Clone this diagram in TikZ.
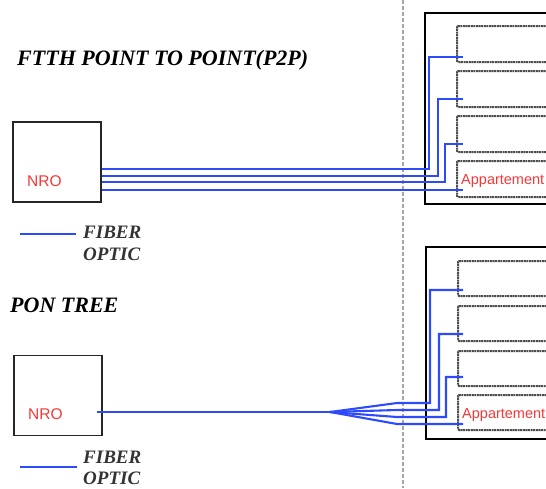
\documentclass[tikz,border=0pt]{standalone}
\usepackage{fontspec}
\setmainfont{Liberation Serif}
\newfontfamily\tagfont{Liberation Sans}
\usetikzlibrary{calc}
\definecolor{fiberblue}{RGB}{45,75,250}
\definecolor{tagred}{RGB}{245,55,55}

\tikzset{
  fiber/.style={fiberblue, line width=2.1pt},
  nrobox/.style={draw=black!85, line width=1.8pt, minimum width=88pt, minimum height=80pt, inner sep=0pt},
  flatbox/.style={draw=black!70, line width=2pt, dash pattern=on 2pt off 0.6pt, rounded corners=1pt,
    anchor=north west, minimum width=100pt, minimum height=36pt, inner sep=0pt},
  heading/.style={anchor=base west, inner sep=0pt, font=\bfseries\itshape\fontsize{22}{24}\selectfont},
  legendtext/.style={anchor=base west, inner sep=0pt, text=black!80, font=\bfseries\itshape\fontsize{19}{21}\selectfont},
  redtag/.style={anchor=base west, inner sep=0pt, text=tagred, font=\tagfont\fontsize{#1}{#1}\selectfont},
}

\begin{document}
\begin{tikzpicture}[x=1pt,y=-1pt]

  \useasboundingbox (0,0) rectangle (546,488);

  % Divider
  \draw[gray!70, line width=1.3pt, dash pattern=on 4pt off 2pt] (403,0) -- (403,488);

  % Titles
  \node[heading] (titleP2P) at (17,65) {FTTH POINT TO POINT(P2P)};
  \node[heading] (titlePON) at (10,312) {PON TREE};

  % Central offices
  \node[nrobox] (nroA) at (57,162) {};
  \node[redtag=15.5] (nroAtag) at (27,186) {NRO};
  \node[nrobox] (nroB) at (58,395.5) {};
  \node[redtag=15.5] (nroBtag) at (28,419) {NRO};

  % Legends
  \draw[fiber] (20,234) -- (76,234);
  \node[legendtext] (legAfiber) at (83,238) {FIBER};
  \node[legendtext] (legAoptic) at (83,260) {OPTIC};
  \draw[fiber] (20,467) -- (77,467);
  \node[legendtext] (legBfiber) at (83,463) {FIBER};
  \node[legendtext] (legBoptic) at (83,484) {OPTIC};

  % Buildings
  \draw[black, line width=1.7pt] (425,13) rectangle (560,204);
  \draw[black, line width=1.7pt] (426,247) rectangle (560,439);

  % Flats, P2P building
  \node[flatbox] (flatA1) at (456,25) {};
  \node[flatbox] (flatA2) at (456,70) {};
  \node[flatbox] (flatA3) at (456,115) {};
  \node[flatbox] (flatA4) at (456,160) {};
  \node[redtag=14.5] (flatAtag) at (461,184) {Appartement};

  % Flats, PON building
  \node[flatbox, minimum height=35pt] (flatB1) at (457,260) {};
  \node[flatbox, minimum height=35pt] (flatB2) at (457,305) {};
  \node[flatbox, minimum height=35pt] (flatB3) at (457,350) {};
  \node[flatbox, minimum height=35pt] (flatB4) at (457,394) {};
  \node[redtag=14.5] (flatBtag) at (462,418) {Appartement};

  % Drop points inside the flats
  \coordinate (dropA1) at (463,57);
  \coordinate (dropA2) at (463,99);
  \coordinate (dropA3) at (463,144);
  \coordinate (dropA4) at (463,190);
  \coordinate (dropB1) at (463,290);
  \coordinate (dropB2) at (463,334);
  \coordinate (dropB3) at (463,377);
  \coordinate (dropB4) at (463,423);

  % Point to point: one fiber per flat
  \draw[fiber] (nroA.east |- 0,169) -- (429,169) |- (dropA1);
  \draw[fiber] (nroA.east |- 0,176) -- (438,176) |- (dropA2);
  \draw[fiber] (nroA.east |- 0,182) -- (445,182) |- (dropA3);
  \draw[fiber] (nroA.east |- dropA4) -- (dropA4);

  % PON: one fiber, split near the building
  \coordinate (splitB) at (330,412);
  \draw[fiber] ($(nroB.east |- splitB)+(-6,0)$) -- (splitB);
  \draw[fiber] (splitB) -- (397,403) -- (430,403) |- (dropB1);
  \draw[fiber] (splitB) -- (397,410) -- (439,410) |- (dropB2);
  \draw[fiber] (splitB) -- (397,417) -- (446,417) |- (dropB3);
  \draw[fiber] (splitB) -- (397,424) -- (dropB4 |- 0,424);

\end{tikzpicture}
\end{document}
